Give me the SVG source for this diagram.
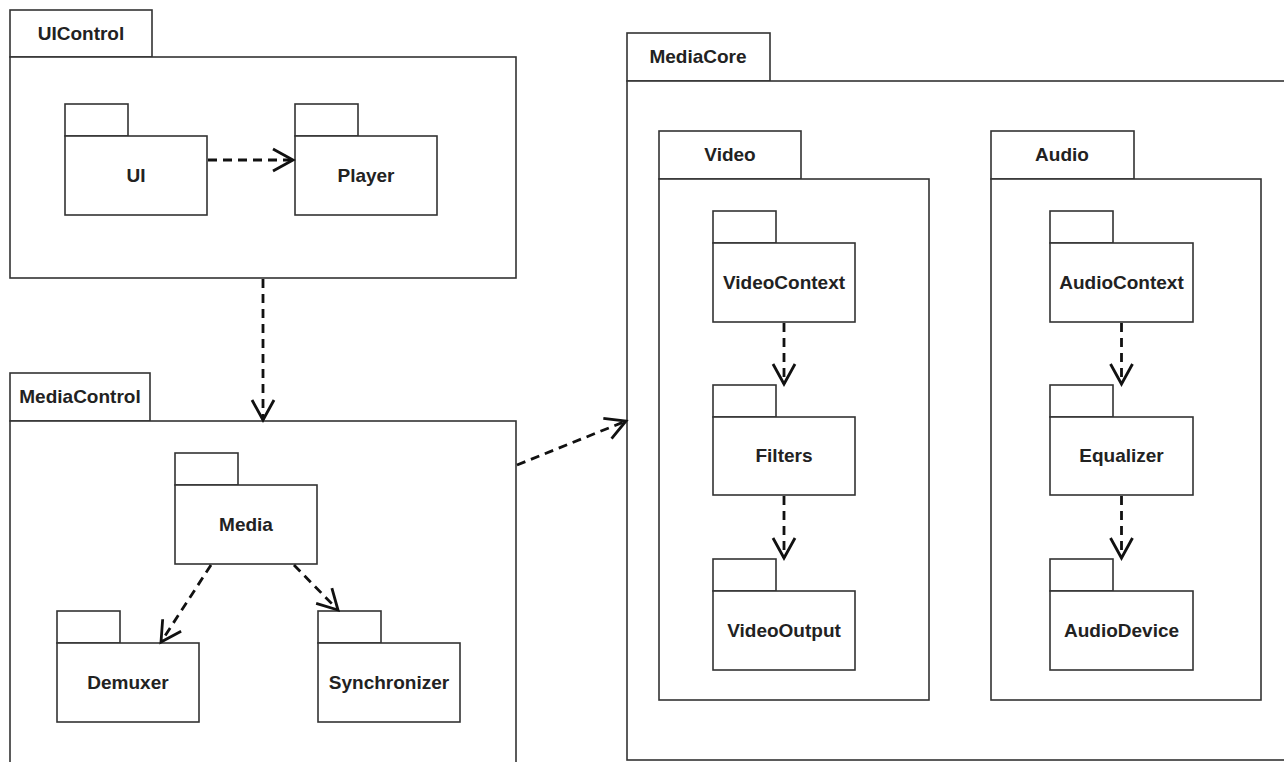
<svg xmlns="http://www.w3.org/2000/svg" width="1284" height="762" viewBox="0 0 1284 762">
<style>
.box{fill:#fff;stroke:#333;stroke-width:1.6}
.lbl{font-family:"Liberation Sans",Arial,sans-serif;font-size:19px;font-weight:bold;fill:#222;text-anchor:middle}
.dep{fill:none;stroke:#111;stroke-width:2.8;stroke-dasharray:9 6}
</style>
<defs>
<marker id="open" markerUnits="userSpaceOnUse" markerWidth="28" markerHeight="28" viewBox="0 0 28 28" refX="23" refY="14" orient="auto">
<path d="M3,3 L23,14 L3,25" fill="none" stroke="#111" stroke-width="2.8"/>
</marker>
</defs>
<rect width="1284" height="762" fill="#fff"/>

<g id="UIControl">
<rect class="box" x="10" y="10" width="142" height="47"/>
<rect class="box" x="10" y="57" width="506" height="221"/>
<text class="lbl" x="81" y="40">UIControl</text>
</g>
<g id="UI">
<rect class="box" x="65" y="104" width="63" height="32"/>
<rect class="box" x="65" y="136" width="142" height="79"/>
<text class="lbl" x="136" y="182">UI</text>
</g>
<g id="Player">
<rect class="box" x="295" y="104" width="63" height="32"/>
<rect class="box" x="295" y="136" width="142" height="79"/>
<text class="lbl" x="366" y="182">Player</text>
</g>

<g id="MediaControl">
<rect class="box" x="10" y="373" width="140" height="48"/>
<rect class="box" x="10" y="421" width="506" height="360"/>
<text class="lbl" x="80" y="403">MediaControl</text>
</g>
<g id="Media">
<rect class="box" x="175" y="453" width="63" height="32"/>
<rect class="box" x="175" y="485" width="142" height="79"/>
<text class="lbl" x="246" y="531">Media</text>
</g>
<g id="Demuxer">
<rect class="box" x="57" y="611" width="63" height="32"/>
<rect class="box" x="57" y="643" width="142" height="79"/>
<text class="lbl" x="128" y="689">Demuxer</text>
</g>
<g id="Synchronizer">
<rect class="box" x="318" y="611" width="63" height="32"/>
<rect class="box" x="318" y="643" width="142" height="79"/>
<text class="lbl" x="389" y="689">Synchronizer</text>
</g>

<g id="MediaCore">
<rect class="box" x="627" y="33" width="143" height="48"/>
<rect class="box" x="627" y="81" width="680" height="679"/>
<text class="lbl" x="698" y="63">MediaCore</text>
</g>
<g id="Video">
<rect class="box" x="659" y="131" width="142" height="48"/>
<rect class="box" x="659" y="179" width="270" height="521"/>
<text class="lbl" x="730" y="161">Video</text>
</g>
<g id="VideoContext">
<rect class="box" x="713" y="211" width="63" height="32"/>
<rect class="box" x="713" y="243" width="142" height="79"/>
<text class="lbl" x="784" y="289">VideoContext</text>
</g>
<g id="Filters">
<rect class="box" x="713" y="385" width="63" height="32"/>
<rect class="box" x="713" y="417" width="142" height="78"/>
<text class="lbl" x="784" y="462">Filters</text>
</g>
<g id="VideoOutput">
<rect class="box" x="713" y="559" width="63" height="32"/>
<rect class="box" x="713" y="591" width="142" height="79"/>
<text class="lbl" x="784" y="637">VideoOutput</text>
</g>
<g id="Audio">
<rect class="box" x="991" y="131" width="143" height="48"/>
<rect class="box" x="991" y="179" width="270" height="521"/>
<text class="lbl" x="1062" y="161">Audio</text>
</g>
<g id="AudioContext">
<rect class="box" x="1050" y="211" width="63" height="32"/>
<rect class="box" x="1050" y="243" width="143" height="79"/>
<text class="lbl" x="1121.5" y="289">AudioContext</text>
</g>
<g id="Equalizer">
<rect class="box" x="1050" y="385" width="63" height="32"/>
<rect class="box" x="1050" y="417" width="143" height="78"/>
<text class="lbl" x="1121.5" y="462">Equalizer</text>
</g>
<g id="AudioDevice">
<rect class="box" x="1050" y="559" width="63" height="32"/>
<rect class="box" x="1050" y="591" width="143" height="79"/>
<text class="lbl" x="1121.5" y="637">AudioDevice</text>
</g>

<g id="connectors">
<line class="dep" x1="208" y1="160" x2="293" y2="160" marker-end="url(#open)"/>
<line class="dep" x1="263" y1="279" x2="263" y2="420" marker-end="url(#open)"/>
<line class="dep" x1="211" y1="565" x2="161" y2="642" marker-end="url(#open)"/>
<line class="dep" x1="294" y1="565" x2="338" y2="610" marker-end="url(#open)"/>
<line class="dep" x1="517" y1="465" x2="626" y2="421" marker-end="url(#open)"/>
<line class="dep" x1="784" y1="323" x2="784" y2="384" marker-end="url(#open)"/>
<line class="dep" x1="784" y1="496" x2="784" y2="558" marker-end="url(#open)"/>
<line class="dep" x1="1121.5" y1="323" x2="1121.5" y2="384" marker-end="url(#open)"/>
<line class="dep" x1="1121.5" y1="496" x2="1121.5" y2="558" marker-end="url(#open)"/>
</g>
</svg>
